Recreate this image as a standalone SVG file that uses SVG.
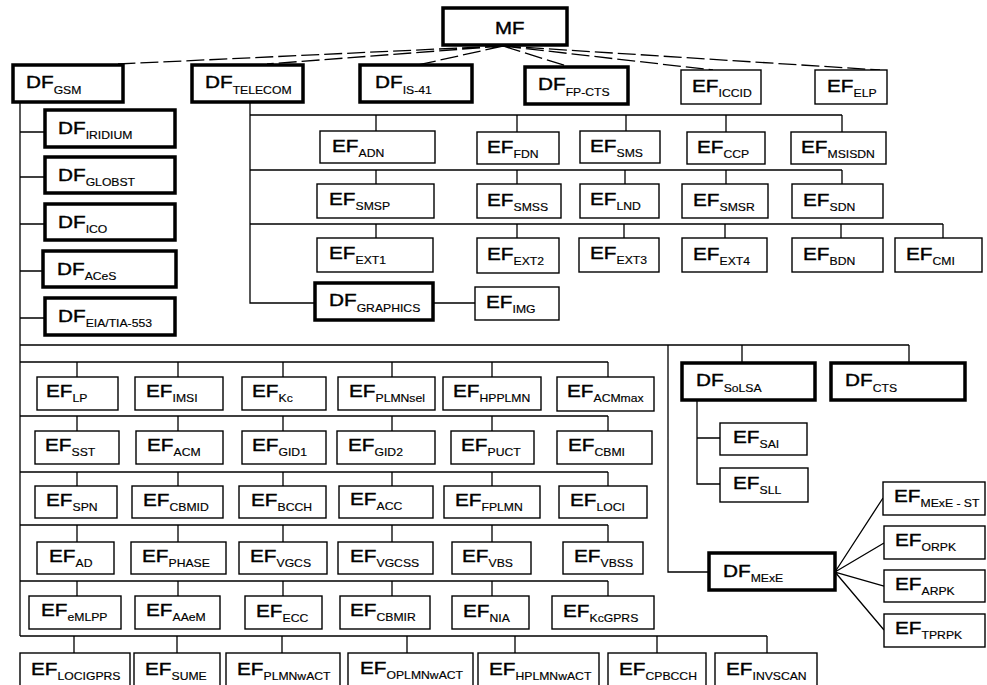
<svg xmlns="http://www.w3.org/2000/svg" width="987" height="685" viewBox="0 0 987 685">
<style>
.df{fill:#fff;stroke:#000;stroke-width:3.5}
.ef{fill:#fff;stroke:#000;stroke-width:1.4}
.c{stroke:#000;stroke-width:1.3;fill:none}
.fan{stroke:#000;stroke-width:1.3;fill:none;stroke-dasharray:18 5}
.t{font-family:"Liberation Sans",Arial,sans-serif;font-size:17px;fill:#000;stroke:#000;stroke-width:0.4}
.s{font-size:10px;stroke-width:0.15}
</style>
<rect width="987" height="685" fill="#fff"/>
<g id="connectors">
<path class="fan" d="M503,46 L118,64 M503,46 L267,64 M503,46 L418,65 M503,46 L570,67 M503,46 L713,70 M503,46 L880,70"/>
<path class="c" d="M20,102 V636 M20,132 H45 M20,177 H45 M20,224 H45 M20,271 H43 M20,318 H45"/>
<path class="c" d="M20,345 H909 M742,345 V363 M909,345 V363 M668,345 V572 H709 M697,400 V484 H720 M697,438 H720"/>
<path class="c" d="M835,572 L883,498 M835,572 L884,543 M835,572 L884,586 M835,572 L884,630"/>
<path class="c" d="M250,102 V303 H315 M433,303 H475"/>
<path class="c" d="M250,115 H842 M376,115 V131 M517,115 V132 M626,115 V131 M726,115 V132 M842,115 V132"/>
<path class="c" d="M250,170 H842 M376,170 V184 M517,170 V184 M625,170 V184 M726,170 V184 M842,170 V184"/>
<path class="c" d="M250,224 H943 M376,224 V238 M517,224 V238 M624,224 V238 M725,224 V238 M841,224 V238 M943,224 V238"/>
<path class="c" d="M20,362 H608 M77,362 V377 M178,362 V377 M283,362 V377 M392,362 V377 M492,362 V377 M608,362 V377"/>
<path class="c" d="M20,416 H608 M77,416 V431 M178,416 V431 M283,416 V431 M392,416 V431 M492,416 V431 M608,416 V431"/>
<path class="c" d="M20,472 H608 M77,472 V486 M178,472 V486 M283,472 V486 M392,472 V486 M492,472 V486 M608,472 V486"/>
<path class="c" d="M20,525 H608 M77,525 V542 M178,525 V542 M283,525 V542 M392,525 V542 M492,525 V542 M608,525 V542"/>
<path class="c" d="M20,581 H608 M77,581 V596 M178,581 V596 M283,581 V596 M392,581 V596 M492,581 V596 M608,581 V596"/>
<path class="c" d="M20,636 H767 M74,636 V653 M177,636 V653 M282,636 V653 M407,636 V653 M515,636 V653 M657,636 V653 M767,636 V653"/>
</g>
<g id="MF"><rect class="df" x="443" y="8" width="124" height="37"/><text class="t" transform="translate(495,34) scale(1.2,1)">MF</text></g>
<g id="DF_GSM"><rect class="df" x="13" y="65" width="110" height="37"/><text class="t" transform="translate(26,88) scale(1.22,1)">DF<tspan class="s" dy="6">GSM</tspan></text></g>
<g id="DF_TELECOM"><rect class="df" x="192" y="65" width="111" height="37"/><text class="t" transform="translate(205,88) scale(1.22,1)">DF<tspan class="s" dy="6">TELECOM</tspan></text></g>
<g id="DF_IS-41"><rect class="df" x="360" y="65" width="112" height="37"/><text class="t" transform="translate(375,88) scale(1.22,1)">DF<tspan class="s" dy="6">IS-41</tspan></text></g>
<g id="DF_FP-CTS"><rect class="df" x="525" y="67" width="103" height="37"/><text class="t" transform="translate(538,90) scale(1.22,1)">DF<tspan class="s" dy="6">FP-CTS</tspan></text></g>
<g id="EF_ICCID"><rect class="ef" x="681" y="70" width="80" height="34"/><text class="t" transform="translate(692,92) scale(1.22,1)">EF<tspan class="s" dy="5">ICCID</tspan></text></g>
<g id="EF_ELP"><rect class="ef" x="815" y="70" width="72" height="34"/><text class="t" transform="translate(827,92) scale(1.22,1)">EF<tspan class="s" dy="5">ELP</tspan></text></g>
<g id="DF_IRIDIUM"><rect class="df" x="45" y="110" width="130" height="37"/><text class="t" transform="translate(58,134) scale(1.22,1)">DF<tspan class="s" dy="5">IRIDIUM</tspan></text></g>
<g id="DF_GLOBST"><rect class="df" x="45" y="157" width="130" height="36"/><text class="t" transform="translate(58,181) scale(1.22,1)">DF<tspan class="s" dy="5">GLOBST</tspan></text></g>
<g id="DF_ICO"><rect class="df" x="45" y="204" width="130" height="36"/><text class="t" transform="translate(58,228) scale(1.22,1)">DF<tspan class="s" dy="5">ICO</tspan></text></g>
<g id="DF_ACeS"><rect class="df" x="43" y="251" width="133" height="36"/><text class="t" transform="translate(57,275) scale(1.22,1)">DF<tspan class="s" dy="5">ACeS</tspan></text></g>
<g id="DF_EIA-TIA-553"><rect class="df" x="45" y="298" width="130" height="37"/><text class="t" transform="translate(58,322) scale(1.22,1)">DF<tspan class="s" dy="5">EIA/TIA-553</tspan></text></g>
<g id="EF_ADN"><rect class="ef" x="320" y="131" width="115" height="32"/><text class="t" transform="translate(332,152) scale(1.22,1)">EF<tspan class="s" dy="5">ADN</tspan></text></g>
<g id="EF_FDN"><rect class="ef" x="477" y="132" width="82" height="32"/><text class="t" transform="translate(487,153) scale(1.22,1)">EF<tspan class="s" dy="5">FDN</tspan></text></g>
<g id="EF_SMS"><rect class="ef" x="580" y="131" width="80" height="32"/><text class="t" transform="translate(590,152) scale(1.22,1)">EF<tspan class="s" dy="5">SMS</tspan></text></g>
<g id="EF_CCP"><rect class="ef" x="687" y="132" width="78" height="32"/><text class="t" transform="translate(697,153) scale(1.22,1)">EF<tspan class="s" dy="5">CCP</tspan></text></g>
<g id="EF_MSISDN"><rect class="ef" x="791" y="132" width="95" height="32"/><text class="t" transform="translate(801,153) scale(1.22,1)">EF<tspan class="s" dy="5">MSISDN</tspan></text></g>
<g id="EF_SMSP"><rect class="ef" x="317" y="184" width="117" height="34"/><text class="t" transform="translate(329,205) scale(1.22,1)">EF<tspan class="s" dy="5">SMSP</tspan></text></g>
<g id="EF_SMSS"><rect class="ef" x="477" y="184" width="84" height="34"/><text class="t" transform="translate(487,206) scale(1.22,1)">EF<tspan class="s" dy="5">SMSS</tspan></text></g>
<g id="EF_LND"><rect class="ef" x="580" y="184" width="79" height="34"/><text class="t" transform="translate(590,205) scale(1.22,1)">EF<tspan class="s" dy="5">LND</tspan></text></g>
<g id="EF_SMSR"><rect class="ef" x="682" y="184" width="86" height="34"/><text class="t" transform="translate(693,206) scale(1.22,1)">EF<tspan class="s" dy="5">SMSR</tspan></text></g>
<g id="EF_SDN"><rect class="ef" x="792" y="184" width="91" height="34"/><text class="t" transform="translate(803,206) scale(1.22,1)">EF<tspan class="s" dy="5">SDN</tspan></text></g>
<g id="EF_EXT1"><rect class="ef" x="317" y="238" width="116" height="34"/><text class="t" transform="translate(329,259) scale(1.22,1)">EF<tspan class="s" dy="5">EXT1</tspan></text></g>
<g id="EF_EXT2"><rect class="ef" x="477" y="238" width="82" height="35"/><text class="t" transform="translate(487,260) scale(1.22,1)">EF<tspan class="s" dy="5">EXT2</tspan></text></g>
<g id="EF_EXT3"><rect class="ef" x="579" y="238" width="80" height="34"/><text class="t" transform="translate(590,259) scale(1.22,1)">EF<tspan class="s" dy="5">EXT3</tspan></text></g>
<g id="EF_EXT4"><rect class="ef" x="682" y="238" width="85" height="34"/><text class="t" transform="translate(693,260) scale(1.22,1)">EF<tspan class="s" dy="5">EXT4</tspan></text></g>
<g id="EF_BDN"><rect class="ef" x="792" y="238" width="91" height="34"/><text class="t" transform="translate(803,260) scale(1.22,1)">EF<tspan class="s" dy="5">BDN</tspan></text></g>
<g id="EF_CMI"><rect class="ef" x="895" y="238" width="87" height="34"/><text class="t" transform="translate(906,260) scale(1.22,1)">EF<tspan class="s" dy="5">CMI</tspan></text></g>
<g id="DF_GRAPHICS"><rect class="df" x="315" y="283" width="118" height="37"/><text class="t" transform="translate(329,306) scale(1.22,1)">DF<tspan class="s" dy="6">GRAPHICS</tspan></text></g>
<g id="EF_IMG"><rect class="ef" x="475" y="287" width="84" height="33"/><text class="t" transform="translate(486,308) scale(1.22,1)">EF<tspan class="s" dy="5">IMG</tspan></text></g>
<g id="EF_LP"><rect class="ef" x="37" y="377" width="81" height="33"/><text class="t" transform="translate(46,397) scale(1.22,1)">EF<tspan class="s" dy="5">LP</tspan></text></g>
<g id="EF_IMSI"><rect class="ef" x="135" y="377" width="88" height="33"/><text class="t" transform="translate(146,397) scale(1.22,1)">EF<tspan class="s" dy="5">IMSI</tspan></text></g>
<g id="EF_Kc"><rect class="ef" x="242" y="377" width="84" height="33"/><text class="t" transform="translate(252,397) scale(1.22,1)">EF<tspan class="s" dy="5">Kc</tspan></text></g>
<g id="EF_PLMNsel"><rect class="ef" x="338" y="377" width="97" height="33"/><text class="t" transform="translate(349,397) scale(1.22,1)">EF<tspan class="s" dy="5">PLMNsel</tspan></text></g>
<g id="EF_HPPLMN"><rect class="ef" x="443" y="377" width="98" height="33"/><text class="t" transform="translate(453,397) scale(1.22,1)">EF<tspan class="s" dy="5">HPPLMN</tspan></text></g>
<g id="EF_ACMmax"><rect class="ef" x="557" y="377" width="97" height="34"/><text class="t" transform="translate(567,397) scale(1.22,1)">EF<tspan class="s" dy="5">ACMmax</tspan></text></g>
<g id="EF_SST"><rect class="ef" x="35" y="431" width="84" height="33"/><text class="t" transform="translate(45,451) scale(1.22,1)">EF<tspan class="s" dy="5">SST</tspan></text></g>
<g id="EF_ACM"><rect class="ef" x="136" y="431" width="87" height="33"/><text class="t" transform="translate(147,451) scale(1.22,1)">EF<tspan class="s" dy="5">ACM</tspan></text></g>
<g id="EF_GID1"><rect class="ef" x="242" y="431" width="84" height="33"/><text class="t" transform="translate(252,451) scale(1.22,1)">EF<tspan class="s" dy="5">GID1</tspan></text></g>
<g id="EF_GID2"><rect class="ef" x="337" y="431" width="98" height="33"/><text class="t" transform="translate(348,451) scale(1.22,1)">EF<tspan class="s" dy="5">GID2</tspan></text></g>
<g id="EF_PUCT"><rect class="ef" x="451" y="431" width="83" height="33"/><text class="t" transform="translate(461,451) scale(1.22,1)">EF<tspan class="s" dy="5">PUCT</tspan></text></g>
<g id="EF_CBMI"><rect class="ef" x="557" y="431" width="95" height="33"/><text class="t" transform="translate(568,451) scale(1.22,1)">EF<tspan class="s" dy="5">CBMI</tspan></text></g>
<g id="EF_SPN"><rect class="ef" x="35" y="486" width="82" height="32"/><text class="t" transform="translate(46,506) scale(1.22,1)">EF<tspan class="s" dy="5">SPN</tspan></text></g>
<g id="EF_CBMID"><rect class="ef" x="132" y="486" width="91" height="32"/><text class="t" transform="translate(143,506) scale(1.22,1)">EF<tspan class="s" dy="5">CBMID</tspan></text></g>
<g id="EF_BCCH"><rect class="ef" x="239" y="486" width="87" height="32"/><text class="t" transform="translate(251,506) scale(1.22,1)">EF<tspan class="s" dy="5">BCCH</tspan></text></g>
<g id="EF_ACC"><rect class="ef" x="339" y="486" width="94" height="32"/><text class="t" transform="translate(350,505) scale(1.22,1)">EF<tspan class="s" dy="5">ACC</tspan></text></g>
<g id="EF_FPLMN"><rect class="ef" x="444" y="486" width="96" height="32"/><text class="t" transform="translate(455,506) scale(1.22,1)">EF<tspan class="s" dy="5">FPLMN</tspan></text></g>
<g id="EF_LOCI"><rect class="ef" x="559" y="486" width="88" height="32"/><text class="t" transform="translate(570,506) scale(1.22,1)">EF<tspan class="s" dy="5">LOCI</tspan></text></g>
<g id="EF_AD"><rect class="ef" x="37" y="542" width="77" height="32"/><text class="t" transform="translate(49,562) scale(1.22,1)">EF<tspan class="s" dy="5">AD</tspan></text></g>
<g id="EF_PHASE"><rect class="ef" x="131" y="542" width="95" height="32"/><text class="t" transform="translate(142,562) scale(1.22,1)">EF<tspan class="s" dy="5">PHASE</tspan></text></g>
<g id="EF_VGCS"><rect class="ef" x="239" y="542" width="88" height="32"/><text class="t" transform="translate(250,562) scale(1.22,1)">EF<tspan class="s" dy="5">VGCS</tspan></text></g>
<g id="EF_VGCSS"><rect class="ef" x="338" y="542" width="95" height="32"/><text class="t" transform="translate(350,562) scale(1.22,1)">EF<tspan class="s" dy="5">VGCSS</tspan></text></g>
<g id="EF_VBS"><rect class="ef" x="452" y="542" width="79" height="32"/><text class="t" transform="translate(462,562) scale(1.22,1)">EF<tspan class="s" dy="5">VBS</tspan></text></g>
<g id="EF_VBSS"><rect class="ef" x="563" y="542" width="80" height="32"/><text class="t" transform="translate(574,562) scale(1.22,1)">EF<tspan class="s" dy="5">VBSS</tspan></text></g>
<g id="EF_eMLPP"><rect class="ef" x="29" y="596" width="92" height="33"/><text class="t" transform="translate(41,616) scale(1.22,1)">EF<tspan class="s" dy="5">eMLPP</tspan></text></g>
<g id="EF_AAeM"><rect class="ef" x="135" y="596" width="85" height="33"/><text class="t" transform="translate(146,616) scale(1.22,1)">EF<tspan class="s" dy="5">AAeM</tspan></text></g>
<g id="EF_ECC"><rect class="ef" x="245" y="596" width="77" height="33"/><text class="t" transform="translate(256,617) scale(1.22,1)">EF<tspan class="s" dy="5">ECC</tspan></text></g>
<g id="EF_CBMIR"><rect class="ef" x="340" y="596" width="90" height="33"/><text class="t" transform="translate(350,616) scale(1.22,1)">EF<tspan class="s" dy="5">CBMIR</tspan></text></g>
<g id="EF_NIA"><rect class="ef" x="452" y="596" width="77" height="33"/><text class="t" transform="translate(463,617) scale(1.22,1)">EF<tspan class="s" dy="5">NIA</tspan></text></g>
<g id="EF_KcGPRS"><rect class="ef" x="552" y="596" width="102" height="33"/><text class="t" transform="translate(563,617) scale(1.22,1)">EF<tspan class="s" dy="5">KcGPRS</tspan></text></g>
<g id="EF_LOCIGPRS"><rect class="ef" x="20" y="653" width="110" height="40"/><text class="t" transform="translate(31,675) scale(1.22,1)">EF<tspan class="s" dy="5">LOCIGPRS</tspan></text></g>
<g id="EF_SUME"><rect class="ef" x="134" y="653" width="86" height="40"/><text class="t" transform="translate(145,675) scale(1.22,1)">EF<tspan class="s" dy="5">SUME</tspan></text></g>
<g id="EF_PLMNwACT"><rect class="ef" x="226" y="653" width="114" height="40"/><text class="t" transform="translate(237,675) scale(1.22,1)">EF<tspan class="s" dy="5">PLMNwACT</tspan></text></g>
<g id="EF_OPLMNwACT"><rect class="ef" x="348" y="653" width="125" height="40"/><text class="t" transform="translate(360,674) scale(1.22,1)">EF<tspan class="s" dy="5">OPLMNwACT</tspan></text></g>
<g id="EF_HPLMNwACT"><rect class="ef" x="478" y="653" width="121" height="40"/><text class="t" transform="translate(489,675) scale(1.22,1)">EF<tspan class="s" dy="5">HPLMNwACT</tspan></text></g>
<g id="EF_CPBCCH"><rect class="ef" x="608" y="653" width="98" height="40"/><text class="t" transform="translate(619,675) scale(1.22,1)">EF<tspan class="s" dy="5">CPBCCH</tspan></text></g>
<g id="EF_INVSCAN"><rect class="ef" x="715" y="653" width="102" height="40"/><text class="t" transform="translate(726,675) scale(1.22,1)">EF<tspan class="s" dy="5">INVSCAN</tspan></text></g>
<g id="DF_SoLSA"><rect class="df" x="682" y="363" width="133" height="37"/><text class="t" transform="translate(696,386) scale(1.22,1)">DF<tspan class="s" dy="6">SoLSA</tspan></text></g>
<g id="DF_CTS"><rect class="df" x="831" y="363" width="134" height="37"/><text class="t" transform="translate(845,386) scale(1.22,1)">DF<tspan class="s" dy="6">CTS</tspan></text></g>
<g id="EF_SAI"><rect class="ef" x="720" y="423" width="87" height="32"/><text class="t" transform="translate(733,443) scale(1.22,1)">EF<tspan class="s" dy="5">SAI</tspan></text></g>
<g id="EF_SLL"><rect class="ef" x="720" y="468" width="88" height="34"/><text class="t" transform="translate(733,489) scale(1.22,1)">EF<tspan class="s" dy="5">SLL</tspan></text></g>
<g id="DF_MExE"><rect class="df" x="709" y="553" width="126" height="37"/><text class="t" transform="translate(723,577) scale(1.22,1)">DF<tspan class="s" dy="5">MExE</tspan></text></g>
<g id="EF_MExE-ST"><rect class="ef" x="883" y="482" width="102" height="33"/><text class="t" transform="translate(894,502) scale(1.22,1)">EF<tspan class="s" dy="5">MExE - ST</tspan></text></g>
<g id="EF_ORPK"><rect class="ef" x="884" y="526" width="101" height="33"/><text class="t" transform="translate(895,546) scale(1.22,1)">EF<tspan class="s" dy="5">ORPK</tspan></text></g>
<g id="EF_ARPK"><rect class="ef" x="884" y="570" width="101" height="32"/><text class="t" transform="translate(895,590) scale(1.22,1)">EF<tspan class="s" dy="5">ARPK</tspan></text></g>
<g id="EF_TPRPK"><rect class="ef" x="884" y="614" width="101" height="33"/><text class="t" transform="translate(895,634) scale(1.22,1)">EF<tspan class="s" dy="5">TPRPK</tspan></text></g>
</svg>
